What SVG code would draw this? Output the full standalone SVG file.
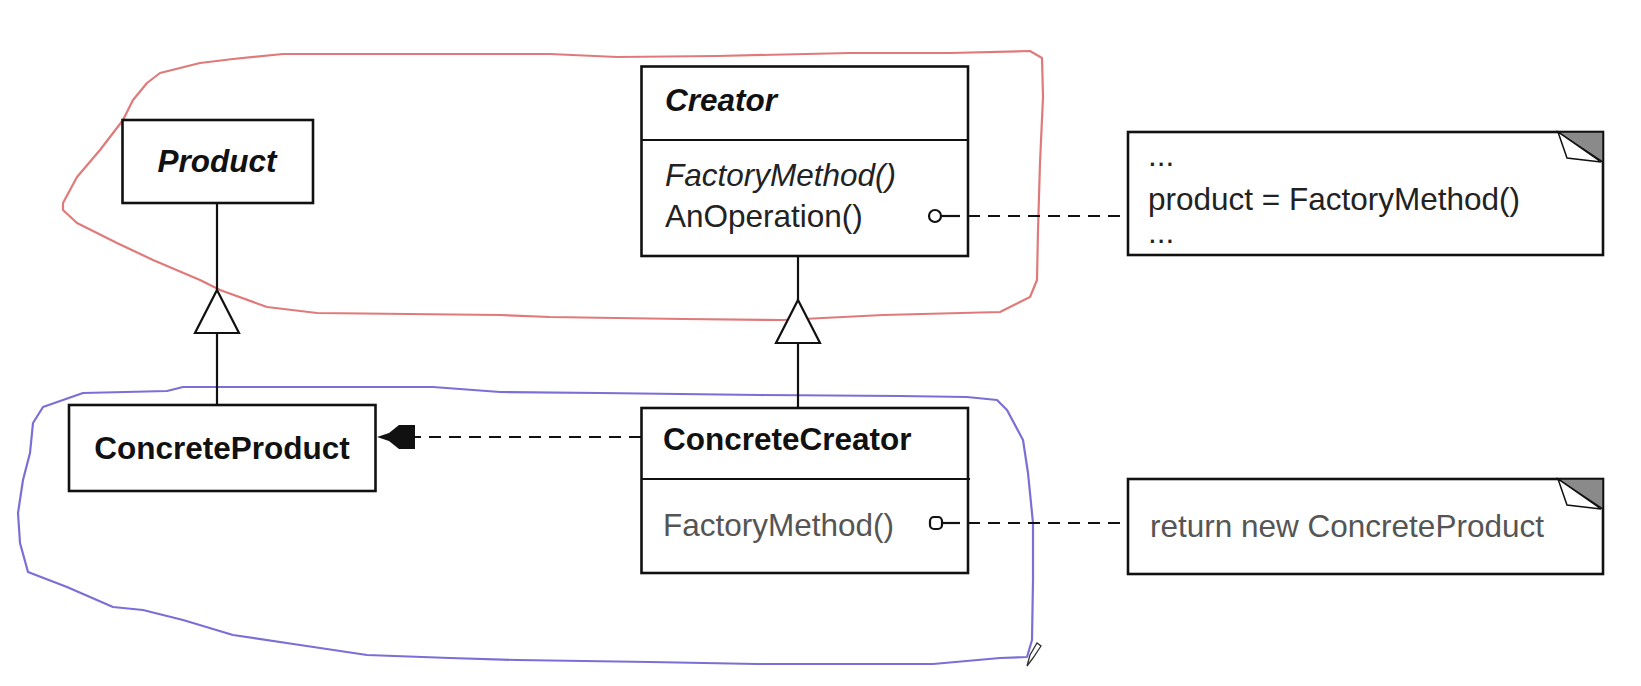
<svg xmlns="http://www.w3.org/2000/svg" width="1641" height="686" viewBox="0 0 1641 686">
<style>
.box{fill:#fff;stroke:#111;stroke-width:2.6}
.ln{fill:none;stroke:#111;stroke-width:2.2}
.dash{fill:none;stroke:#111;stroke-width:2.2;stroke-dasharray:12 8}
.tri{fill:#fff;stroke:#111;stroke-width:2.2}
.t{font-family:"Liberation Sans",Arial,sans-serif;font-size:31.5px;fill:#222}
.b{font-weight:bold;fill:#111}
.i{font-style:italic}
.g{fill:#555}
.ear{fill:#8a8a8a;stroke:#111;stroke-width:1.5}
.flap{fill:#fff;stroke:#111;stroke-width:1.5}
.red{fill:none;stroke:#e07a7a;stroke-width:2.2;stroke-linejoin:round}
.blue{fill:none;stroke:#7a6fd6;stroke-width:2.2;stroke-linejoin:round}
</style>
<defs>
<marker id="dep" markerWidth="40" markerHeight="28" refX="0" refY="13" orient="auto" markerUnits="userSpaceOnUse">
<polygon points="38,13 26,9 16,1 0,1 0,25 16,25 26,17" fill="#111"/>
</marker>
</defs>
<rect width="1641" height="686" fill="#fff"/>

<g id="red-loop">
<path class="red" d="M63,203 L77,177 L100,150 L123,120 L133,100 L147,83 L160,73 L200,63 L233,59 L283,54 L367,54 L550,54 L617,57 L717,56 L850,53 L950,53 L1030,51 L1042,58 L1043,97 L1040,163 L1038,230 L1037,280 L1030,297 L1000,312 L883,315 L783,320 L683,319 L550,317 L500,315 L317,313 L267,307 L220,290 L200,280 L153,260 L117,243 L77,223 L63,210 Z"/>
</g>
<g id="blue-loop">
<path class="blue" d="M500,392 L433,387 L183,387 L167,391 L83,393 L43,407 L33,423 L30,453 L23,480 L18,513 L20,543 L28,572 L67,587 L113,607 L143,610 L183,620 L233,635 L300,645 L367,655 L450,658 L517,660 L650,662 L757,664 L933,664 L1000,658 L1027,657 L1032,640 L1033,580 L1033,523 L1028,473 L1023,440 L1007,410 L997,400 L967,397 L900,396 L760,395 L600,393 Z"/>
<polygon points="1027,666 1030,655 1037,643 1041,646 1033,658" fill="#fff" stroke="#333" stroke-width="1.3"/>
</g>

<g id="Product">
<rect class="box" x="122.5" y="120" width="190.5" height="83"/>
<text class="t b i" x="217" y="172" text-anchor="middle">Product</text>
</g>
<g id="Creator">
<rect class="box" x="641.5" y="66.5" width="326.5" height="189.5"/>
<line class="ln" x1="641.5" y1="140" x2="968" y2="140"/>
<text class="t b i" x="665" y="111">Creator</text>
<text class="t i" x="665" y="186">FactoryMethod()</text>
<text class="t" x="665" y="227">AnOperation()</text>
</g>
<g id="ConcreteProduct">
<rect class="box" x="69" y="405" width="306.5" height="86"/>
<text class="t b" x="222" y="459" text-anchor="middle">ConcreteProduct</text>
</g>
<g id="ConcreteCreator">
<rect class="box" x="641.5" y="408" width="326.5" height="165"/>
<line class="ln" x1="641.5" y1="479" x2="970" y2="479"/>
<text class="t b" x="663" y="450">ConcreteCreator</text>
<text class="t g" x="663" y="536">FactoryMethod()</text>
</g>
<g id="note1">
<rect class="box" x="1128" y="132" width="475" height="123"/>
<polygon class="ear" points="1558,132 1603,132 1603,162"/>
<polygon class="flap" points="1558,132 1567,158 1601,162"/>
<text class="t" x="1148" y="166" font-size="16" fill="#666">...</text>
<text class="t" x="1148" y="210">product = FactoryMethod()</text>
<text class="t" x="1148" y="243" font-size="16" fill="#666">...</text>
</g>
<g id="note2">
<rect class="box" x="1128" y="479" width="475" height="95"/>
<polygon class="ear" points="1558,479 1603,479 1603,509"/>
<polygon class="flap" points="1558,479 1567,505 1601,509"/>
<text class="t g" x="1150" y="537">return new ConcreteProduct</text>
</g>

<g id="connectors">
<line class="ln" x1="217" y1="203" x2="217" y2="290"/>
<polygon class="tri" points="217,290 239,333 195,333"/>
<line class="ln" x1="217" y1="333" x2="217" y2="405"/>
<line class="ln" x1="798" y1="256" x2="798" y2="300"/>
<polygon class="tri" points="798,300 820,343 776,343"/>
<line class="ln" x1="798" y1="343" x2="798" y2="408"/>
<line class="dash" x1="641" y1="437" x2="415" y2="437" marker-end="url(#dep)"/>
<circle cx="935" cy="216" r="6" fill="#fff" stroke="#111" stroke-width="2.2"/>
<line class="ln" x1="941" y1="216" x2="960" y2="216"/>
<line class="dash" x1="968" y1="216" x2="1128" y2="216"/>
<rect x="930" y="517" width="12" height="12" rx="4" fill="#fff" stroke="#111" stroke-width="2.2"/>
<line class="ln" x1="942" y1="523" x2="960" y2="523"/>
<line class="dash" x1="968" y1="523" x2="1128" y2="523"/>
</g>
</svg>
